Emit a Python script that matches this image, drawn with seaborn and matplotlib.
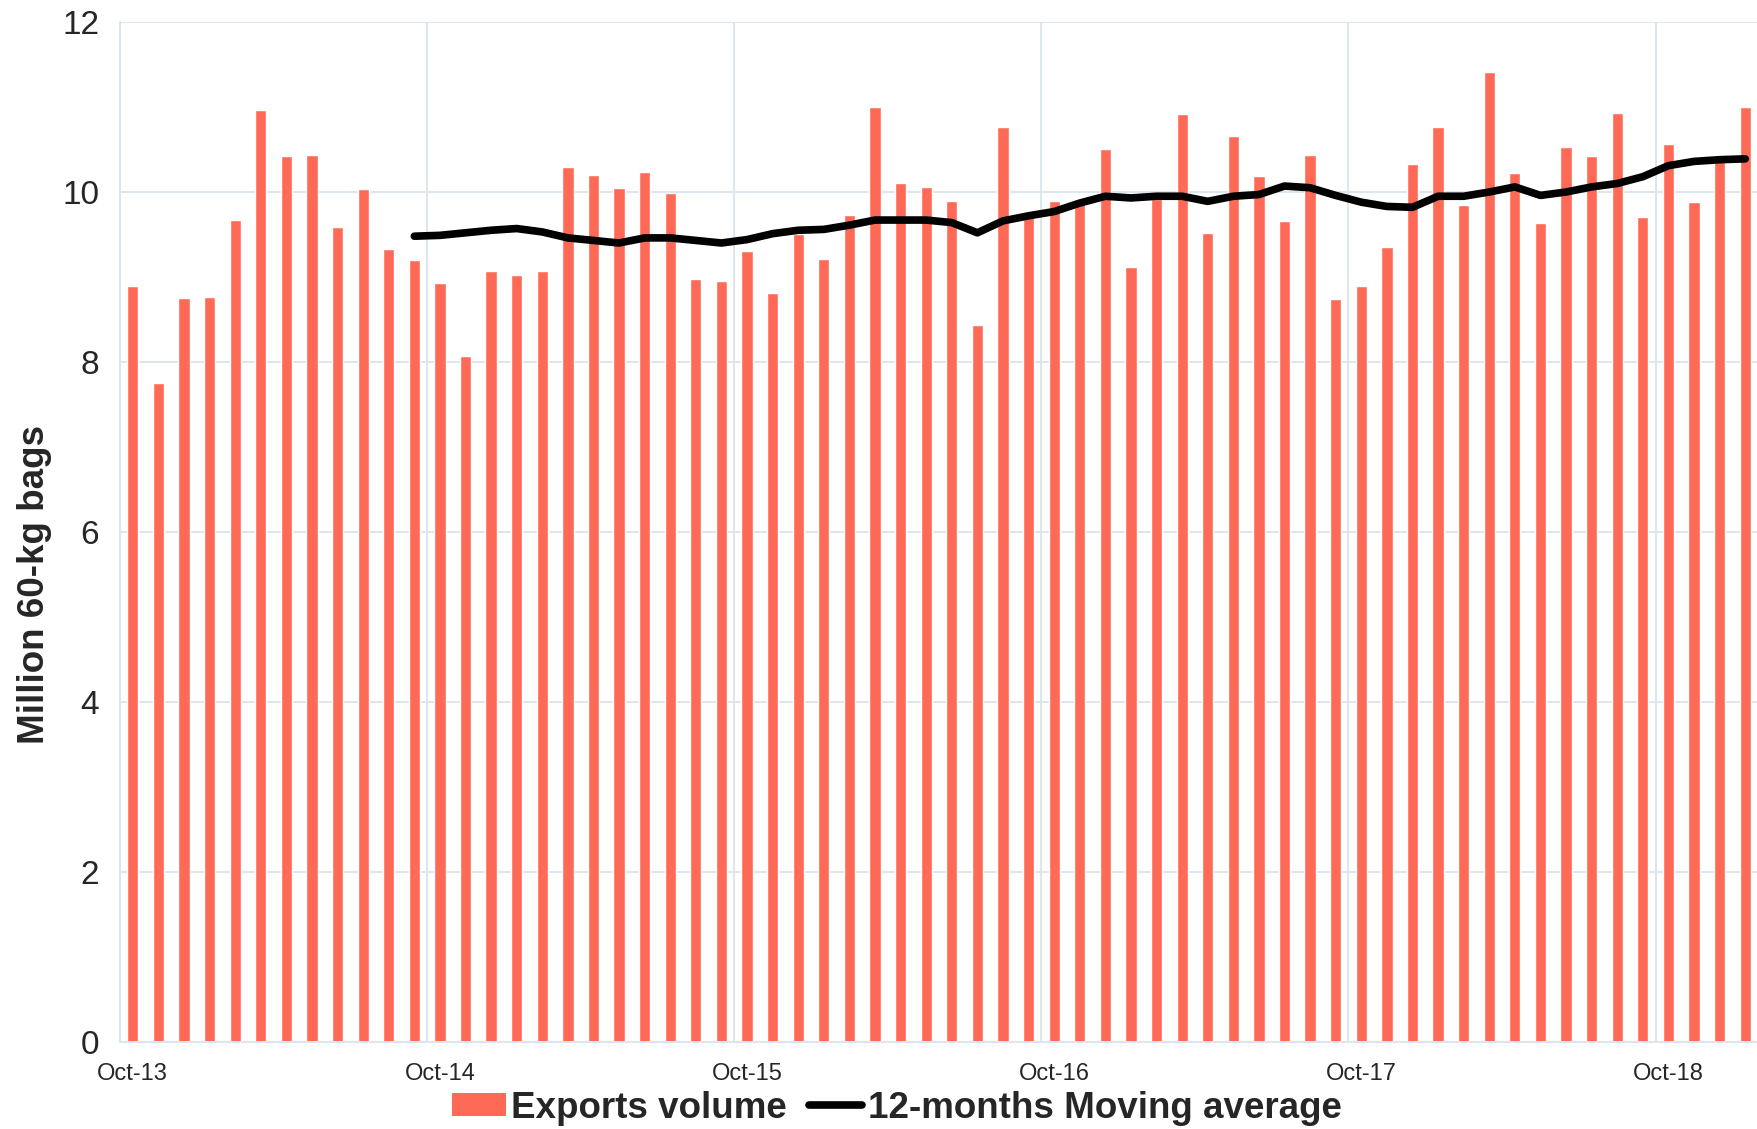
import numpy as np
import pandas as pd
import matplotlib
matplotlib.use("Agg")
import matplotlib.pyplot as plt
from matplotlib.patches import Rectangle
from matplotlib.lines import Line2D
import seaborn as sns

# ---------------- data ----------------
months = pd.date_range("2013-10-01", periods=64, freq="MS")
month_labels = [m.strftime("%b-%y") for m in months]

exports = [8.90, 7.75, 8.75, 8.76, 9.67, 10.96, 10.42, 10.44, 9.59, 10.04,
           9.33, 9.20, 8.93, 8.07, 9.07, 9.02, 9.07, 10.29, 10.20, 10.05,
           10.24, 9.99, 8.98, 8.95, 9.31, 8.81, 9.51, 9.21, 9.73, 11.00,
           10.11, 10.06, 9.90, 8.43, 10.76, 9.74, 9.90, 9.88, 10.51, 9.12,
           9.92, 10.92, 9.52, 10.66, 10.19, 9.66, 10.44, 8.74, 8.89, 9.35,
           10.33, 10.77, 9.85, 11.41, 10.22, 9.64, 10.53, 10.42, 10.93, 9.71,
           10.57, 9.88, 10.42, 11.00]

moving_avg = [None] * 11 + [
    9.48, 9.49, 9.52, 9.55, 9.57, 9.53, 9.46, 9.43, 9.40, 9.46,
    9.46, 9.43, 9.40, 9.44, 9.51, 9.55, 9.56, 9.61, 9.67, 9.67,
    9.67, 9.64, 9.52, 9.66, 9.72, 9.77, 9.87, 9.95, 9.93, 9.95,
    9.95, 9.89, 9.95, 9.97, 10.07, 10.05, 9.96, 9.88, 9.83, 9.82,
    9.95, 9.95, 10.00, 10.06, 9.96, 10.00, 10.06, 10.10, 10.18, 10.31,
    10.36, 10.38, 10.39]

tick_labels = ["Oct-13", "Oct-14", "Oct-15", "Oct-16", "Oct-17", "Oct-18"]
y_ticks = [0, 2, 4, 6, 8, 10, 12]

series_names = ["Exports volume", "12-months Moving average"]

# ---------------- style ----------------
BAR = "#FF6A56"
GRID = "#DDE6EC"
W, H = 1758, 1129

sns.set_style("white")
plt.rcParams["font.family"] = ["Liberation Sans", "DejaVu Sans"]

df = pd.DataFrame({"month": month_labels, "exports": exports,
                   "pos": np.arange(len(month_labels)),
                   "ma": pd.to_numeric(pd.Series(moving_avg), errors="coerce")})

fig = plt.figure(figsize=(W / 100, H / 100), dpi=100)
fig.patch.set_facecolor("white")
ax = fig.add_axes([120 / W, 1 - 1042 / H, 1 - 120 / W, (1042 - 22) / H])

sns.barplot(data=df, x="month", y="exports", color=BAR, saturation=1,
            width=0.44, ax=ax, zorder=2)
ma_df = df.dropna(subset=["ma"])
sns.lineplot(data=ma_df, x="pos", y="ma", color="black", linewidth=5.5,
             ax=ax, zorder=3, solid_capstyle="round")

ax.set_xlim(-0.5, len(month_labels) - 0.5)
ax.set_ylim(0, 12)
ax.set_axisbelow(True)

# x axis: gridlines/ticks at year boundaries, labels on October bars
label_pos = [month_labels.index(t) for t in tick_labels]
boundaries = [p - 0.5 for p in label_pos]
ax.set_xticks(boundaries)
ax.set_xticklabels([""] * len(boundaries))
ax.set_xticks(label_pos, minor=True)
ax.set_xticklabels(tick_labels, minor=True, fontsize=17)
ax.tick_params(axis="x", which="major", length=6, width=1.4, color=GRID)
ax.tick_params(axis="x", which="minor", length=0, pad=15)

ax.set_yticks(y_ticks)
ax.set_yticklabels([str(v) for v in y_ticks], fontsize=24)
ax.tick_params(axis="y", length=0, pad=15)

ax.grid(True, which="major", color=GRID, linewidth=1.4)
ax.set_xlabel("")
ax.set_ylabel("")

for s in ["top", "right"]:
    ax.spines[s].set_visible(False)
for s in ["left", "bottom"]:
    ax.spines[s].set_color(GRID)
    ax.spines[s].set_linewidth(1.4)

fig.text(35 / W, 1 - 584 / H, "Million 60-kg bags", rotation=90,
         ha="center", va="center", fontsize=26.5, fontweight="bold")

handles = [Rectangle((0, 0), 1, 1, facecolor=BAR, edgecolor="none"),
           Line2D([0], [0], color="black", linewidth=5.5, solid_capstyle="round")]
fig.legend(handles, series_names, loc="center",
           bbox_to_anchor=(897 / W, 1 - 1108 / H), ncol=2, frameon=False,
           prop={"weight": "bold", "size": 26.5}, handlelength=1.45,
           handleheight=0.55, handletextpad=0.15, columnspacing=0.6,
           borderaxespad=0, borderpad=0)

fig.savefig("out.png", dpi=100, facecolor="white")
